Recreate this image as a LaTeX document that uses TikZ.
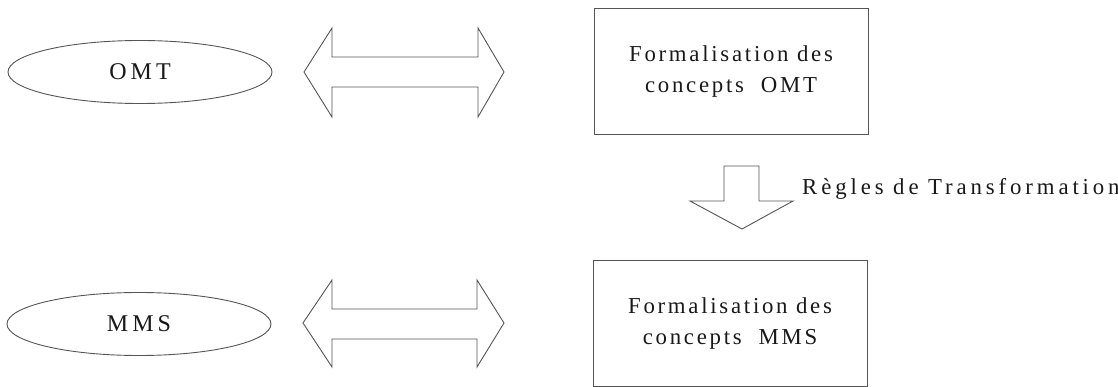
\documentclass[tikz,border=0pt]{standalone}
\usepackage{fontspec}
\setmainfont[LetterSpace=12]{Liberation Serif}
\newfontfamily\widefont[LetterSpace=17]{Liberation Serif}
\usetikzlibrary{shapes.geometric}
\definecolor{linegray}{HTML}{555555}
\begin{document}
\begin{tikzpicture}[x=1pt,y=-1pt,
  every node/.style={font=\fontsize{22.8}{31}\selectfont, text=black!90},
  ellnode/.style={ellipse, draw=linegray, line width=0.9pt, minimum width=264pt, minimum height=63pt, inner sep=0pt, font=\widefont\fontsize{24}{31}\selectfont},
  boxnode/.style={rectangle, draw=linegray, line width=0.9pt, minimum width=274pt, minimum height=126pt, align=center, inner sep=0pt},
  blockarrow/.style={draw=linegray, line width=0.9pt, line join=miter, fill=white}]
\useasboundingbox (0,0) rectangle (1118,387);
% ellipses
\node[ellnode] (omt) at (140,72) {OMT};
\node[ellnode] (mms) at (139,324) {MMS};
% boxes
\node[boxnode] (fomt) at (731,71.5) {Formalisation des\\concepts\ \ OMT};
\node[boxnode] (fmms) at (730,323.5) {Formalisation des\\concepts\ \ MMS};
% double arrows
\draw[blockarrow] (304,72) -- (332,28) -- (332,57) -- (478,57) -- (478,28) -- (504,72)
  -- (478,117) -- (478,87) -- (332,87) -- (332,117) -- cycle;
\draw[blockarrow] (303,323) -- (332,280) -- (332,309) -- (477,309) -- (477,280) -- (504,323)
  -- (477,367) -- (477,339) -- (332,339) -- (332,367) -- cycle;
% down arrow
\draw[blockarrow] (724,166) -- (759,166) -- (759,201) -- (793,201) -- (742,229)
  -- (690,201) -- (724,201) -- cycle;
\node[anchor=base west, inner sep=0pt, font=\widefont\fontsize{22.8}{31}\selectfont] (regles) at (802,195) {Règles de Transformation};
\end{tikzpicture}
\end{document}
